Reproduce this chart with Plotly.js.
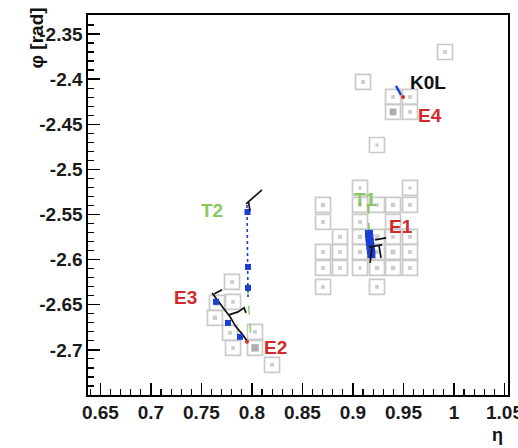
<!DOCTYPE html>
<html>
<head>
<meta charset="utf-8">
<script src="https://cdn.plot.ly/plotly-3.0.1.min.js"></script>
<style>
  html, body { margin: 0; padding: 0; background: #ffffff; }
  #plot { width: 518px; height: 448px; }
</style>
</head>
<body>
<div id="plot"></div>
<script>
// Calorimeter cells in the (eta, phi) plane and their deposited energy (arbitrary units)
const cellEta = [
  0.7803, 0.7654, 0.7813, 0.7634, 0.7783, 0.8030, 0.7813, 0.8030, 0.8199,
  0.9912, 0.9100, 0.9397, 0.9565, 0.9397, 0.9565, 0.9238,
  0.9070, 0.9565,
  0.8704, 0.9070, 0.9238, 0.9397, 0.9565,
  0.8704, 0.9070, 0.9397,
  0.8872, 0.9070, 0.9238, 0.9397, 0.9565,
  0.8704, 0.8872, 0.9070, 0.9238, 0.9397, 0.9565,
  0.8704, 0.8872, 0.9070, 0.9238, 0.9397, 0.9565,
  0.8704, 0.9238
];
const cellPhi = [
  -2.6247, -2.6479, -2.6468, -2.6645, -2.6812, -2.6801, -2.6978, -2.6978, -2.7166,
  -2.3700, -2.4032, -2.4198, -2.4198, -2.4364, -2.4364, -2.4730,
  -2.5206, -2.5206,
  -2.5394, -2.5394, -2.5394, -2.5394, -2.5394,
  -2.5582, -2.5582, -2.5582,
  -2.5748, -2.5748, -2.5748, -2.5748, -2.5748,
  -2.5915, -2.5915, -2.5915, -2.5915, -2.5915, -2.5915,
  -2.6092, -2.6092, -2.6092, -2.6092, -2.6092, -2.6092,
  -2.6302, -2.6302
];
const cellE = [
  0.3, 0.6, 0.3, 0.4, 0.3, 0.3, 0.3, 0.9, 0.3,
  0.3, 0.3, 0.3, 0.3, 0.8, 0.3, 0.2,
  0.2, 0.2,
  0.4, 0.3, 0.3, 0.4, 0.3,
  0.3, 0.3, 0.3,
  0.3, 0.4, 0.5, 0.3, 0.3,
  0.3, 0.3, 0.4, 0.3, 0.5, 0.3,
  0.3, 0.3, 0.2, 0.4, 0.4, 0.3,
  0.3, 0.3
];

// Reconstructed track T2 (dotted) with its measurement points
const t2Eta = [0.7951, 0.7956, 0.7961, 0.7961];
const t2Phi = [-2.5394, -2.5472, -2.6081, -2.6313];
const t2ExtEta = [0.7961, 0.7961, 0.7991];
const t2ExtPhi = [-2.6313, -2.6413, -2.6867];

// Track T1
const t1Eta = [0.9149, 0.9159];
const t1Phi = [-2.5394, -2.5693];
const t1HitEta = [0.9159, 0.9163, 0.9168, 0.9173, 0.9178, 0.9183];
const t1HitPhi = [-2.5715, -2.5760, -2.5805, -2.5850, -2.5895, -2.5940];

// Particle trajectories (segments separated by null)
const trajEta = [
  0.7942, 0.8100, null, 0.7966, 0.7981, null,
  0.7605, 0.7654, 0.7724, 0.7783, 0.7842, 0.7902, 0.7951, null,
  0.7625, 0.7704, null, 0.7773, 0.7862, 0.7922, 0.7941, null,
  0.9219, 0.9328, null, 0.9159, 0.9288, null, 0.9189, 0.9169, null, 0.9258, 0.9278
];
const trajPhi = [
  -2.5383, -2.5228, null, -2.5361, -2.5461, null,
  -2.6369, -2.6446, -2.6546, -2.6634, -2.6745, -2.6823, -2.6900, null,
  -2.6380, -2.6335, null, -2.6612, -2.6579, -2.6535, -2.6590, null,
  -2.5782, -2.5760, null, -2.5859, -2.5837, null, -2.5859, -2.6036, null, -2.5848, -2.5981
];

// Hits on the E3 trajectory
const e3HitEta = [0.7644, 0.7763, 0.7882];
const e3HitPhi = [-2.6468, -2.6701, -2.6856];

// Neutral kaon direction
const k0Eta = [0.9426, 0.9476];
const k0Phi = [-2.4076, -2.4176];

// Cluster seeds
const seedEta = [0.9496, 0.7951];
const seedPhi = [-2.4198, -2.6911];

// Object labels
const labelText = ['K0L', 'E4', 'E1', 'T1', 'T2', 'E3', 'E2'];
const labelEta = [0.9743, 0.9763, 0.9476, 0.9120, 0.7605, 0.7347, 0.8229];
const labelPhi = [-2.4043, -2.4408, -2.5638, -2.5330, -2.5461, -2.6424, -2.6978];
const labelKind = ['neutral', 'cluster', 'cluster', 'track', 'track', 'cluster', 'cluster'];

// Axis ticks
const xTickVals = [0.65, 0.70, 0.75, 0.80, 0.85, 0.90, 0.95, 1.00, 1.05];
const xTickText = ['0.65', '0.7', '0.75', '0.8', '0.85', '0.9', '0.95', '1', '1.05'];
const yTickVals = [-2.35, -2.40, -2.45, -2.50, -2.55, -2.60, -2.65, -2.70];
const yTickText = ['-2.35', '-2.4', '-2.45', '-2.5', '-2.55', '-2.6', '-2.65', '-2.7'];

const RED = '#d22a2a';
const GREEN = '#86c95e';
const BLUE = '#1b3fd2';
const kindColor = { neutral: '#111111', cluster: RED, track: GREEN };
const FONT = 'Liberation Sans, Arial, Helvetica, sans-serif';

const traces = [
  {
    x: cellEta, y: cellPhi, type: 'scatter', mode: 'markers', hoverinfo: 'skip',
    marker: { symbol: 'square-open', size: 15, color: '#cacaca', line: { width: 1.7, color: '#cacaca' } }
  },
  {
    x: cellEta, y: cellPhi, type: 'scatter', mode: 'markers', hoverinfo: 'skip',
    marker: {
      symbol: 'square', size: cellE.map(e => 2 + 6 * e),
      color: cellE.map(e => e > 0.7 ? '#8a8a8a' : '#b8b8b8'),
      line: { width: 0 }
    }
  },
  {
    x: t2ExtEta, y: t2ExtPhi, type: 'scatter', mode: 'lines', hoverinfo: 'skip',
    line: { color: GREEN, width: 1.4, dash: 'dash' }
  },
  {
    x: t1Eta, y: t1Phi, type: 'scatter', mode: 'lines', hoverinfo: 'skip',
    line: { color: GREEN, width: 1.6, dash: 'dash' }
  },
  {
    x: [t2Eta[0], t2ExtEta[1]], y: [t2Phi[0], t2ExtPhi[1]], type: 'scatter', mode: 'lines', hoverinfo: 'skip',
    line: { color: BLUE, width: 1.6, dash: 'dot' }
  },
  {
    x: t2Eta.slice(1), y: t2Phi.slice(1), type: 'scatter', mode: 'markers', hoverinfo: 'skip',
    marker: { symbol: 'square', size: 6, color: BLUE }
  },
  {
    x: t1HitEta, y: t1HitPhi, type: 'scatter', mode: 'markers', hoverinfo: 'skip',
    marker: { symbol: 'square', size: 8, color: BLUE }
  },
  {
    x: trajEta, y: trajPhi, type: 'scatter', mode: 'lines', hoverinfo: 'skip', connectgaps: false,
    line: { color: '#111111', width: 1.7 }
  },
  {
    x: e3HitEta, y: e3HitPhi, type: 'scatter', mode: 'markers', hoverinfo: 'skip',
    marker: { symbol: 'square', size: 6, color: BLUE }
  },
  {
    x: k0Eta, y: k0Phi, type: 'scatter', mode: 'lines', hoverinfo: 'skip',
    line: { color: BLUE, width: 2.4 }
  },
  {
    x: seedEta, y: seedPhi, type: 'scatter', mode: 'markers', hoverinfo: 'skip',
    marker: { symbol: 'circle', size: 4, color: RED }
  }
];

const annotations = labelText.map((t, i) => ({
  x: labelEta[i], y: labelPhi[i], xref: 'x', yref: 'y', text: t, showarrow: false,
  xanchor: 'center', yanchor: 'middle',
  font: { family: FONT, size: 19, weight: 'bold', color: kindColor[labelKind[i]] }
}));

annotations.push({
  x: -0.125, y: 1.025, xref: 'paper', yref: 'paper', text: 'φ [rad]', showarrow: false,
  textangle: -90, xanchor: 'center', yanchor: 'top',
  font: { family: FONT, size: 19, weight: 'bold', color: '#111111' }
});
annotations.push({
  x: 0.975, y: -0.105, xref: 'paper', yref: 'paper', text: 'η', showarrow: false,
  xanchor: 'center', yanchor: 'middle',
  font: { family: FONT, size: 18, weight: 'bold', color: '#111111' }
});

const axisCommon = {
  showgrid: false, zeroline: false, showline: true, linecolor: '#000000', linewidth: 1.6,
  mirror: true, ticks: 'inside', ticklen: 12, tickwidth: 1.4, tickcolor: '#000000',
  tickmode: 'array', ticklabeloverflow: 'allow',
  tickfont: { family: FONT, size: 19, weight: 'bold', color: '#1a1a1a' }
};

const layout = {
  width: 518, height: 448,
  margin: { l: 88, r: 10, t: 15, b: 53 },
  paper_bgcolor: '#ffffff', plot_bgcolor: '#ffffff',
  showlegend: false,
  xaxis: Object.assign({}, axisCommon, {
    range: [0.6377, 1.0535], tickvals: xTickVals, ticktext: xTickText,
    minor: { dtick: 0.01, tick0: 0.65, ticks: 'inside', ticklen: 6, tickwidth: 1.2, tickcolor: '#000000' }
  }),
  yaxis: Object.assign({}, axisCommon, {
    range: [-2.75, -2.329], tickvals: yTickVals, ticktext: yTickText,
    minor: { dtick: 0.01, tick0: -2.35, ticks: 'inside', ticklen: 6, tickwidth: 1.2, tickcolor: '#000000' }
  }),
  annotations: annotations
};

Plotly.newPlot('plot', traces, layout, { staticPlot: true, displayModeBar: false });
</script>
</body>
</html>
